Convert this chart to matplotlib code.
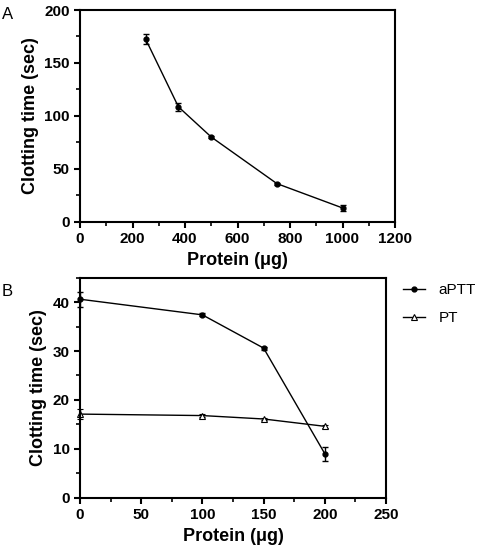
import matplotlib
matplotlib.use("Agg")
import matplotlib.pyplot as plt
from matplotlib.ticker import MultipleLocator

plt.rcParams['font.family'] = ['Liberation Sans', 'DejaVu Sans']

# panel A data
protein_a = [250, 375, 500, 750, 1000]
clot_a = [172.5, 108.5, 80, 36, 13]
err_a = [5, 4, 1, 1, 2.5]

# panel B data
protein_b = [0, 100, 150, 200]
aptt = [40.6, 37.4, 30.6, 9.0]
aptt_err = [1.5, 0.3, 0.3, 1.4]
pt = [17.1, 16.8, 16.1, 14.6]
pt_err = [1.0, 0.3, 0.3, 0.3]

W, H = 479, 550
fig = plt.figure(figsize=(W / 100, H / 100), dpi=100)

# axes placed in pixel coords of the reference
axA = fig.add_axes([80 / W, (H - 221.7) / H, 315 / W, 211.7 / H])
axB = fig.add_axes([80 / W, (H - 497.7) / H, 306 / W, 220 / H])

def style(ax):
    for s in ax.spines.values():
        s.set_linewidth(1.5)
    ax.tick_params(which='major', direction='out', length=4, width=1.5, labelsize=11)
    ax.tick_params(which='minor', direction='out', length=3, width=1.2)
    for lab in ax.get_xticklabels() + ax.get_yticklabels():
        lab.set_fontweight('bold')

axA.errorbar(protein_a, clot_a, yerr=err_a, color='black', lw=1, marker='o', ms=3.5,
             capsize=2, elinewidth=1, capthick=1)
axA.set_xlim(0, 1200)
axA.set_ylim(0, 200)
axA.xaxis.set_major_locator(MultipleLocator(200))
axA.xaxis.set_minor_locator(MultipleLocator(100))
axA.yaxis.set_major_locator(MultipleLocator(50))
axA.yaxis.set_minor_locator(MultipleLocator(25))
axA.set_xlabel('Protein (μg)', fontsize=13, fontweight='bold', labelpad=4)
axA.set_ylabel('Clotting time (sec)', fontsize=13, fontweight='bold', labelpad=4)
style(axA)

axB.errorbar(protein_b, aptt, yerr=aptt_err, color='black', lw=1, marker='o', ms=3.5,
             capsize=2, elinewidth=1, capthick=1, label='aPTT', clip_on=False)
axB.errorbar(protein_b, pt, yerr=pt_err, color='black', lw=1, marker='^', ms=4,
             mfc='white', mew=0.8, capsize=2, elinewidth=1, capthick=1, label='PT', clip_on=False)
axB.set_xlim(0, 250)
axB.set_ylim(0, 45)
axB.xaxis.set_major_locator(MultipleLocator(50))
axB.xaxis.set_minor_locator(MultipleLocator(25))
axB.yaxis.set_major_locator(MultipleLocator(10))
axB.yaxis.set_minor_locator(MultipleLocator(5))
axB.set_xlabel('Protein (μg)', fontsize=13, fontweight='bold', labelpad=4)
axB.set_ylabel('Clotting time (sec)', fontsize=13, fontweight='bold', labelpad=4)
style(axB)

handles, labels = axB.get_legend_handles_labels()
handles = [h[0] for h in handles]
fig.legend(handles, labels, loc='upper left', bbox_to_anchor=(397 / W, 1 - 277 / H),
           borderaxespad=0, frameon=False, fontsize=11, handlelength=1.4,
           labelspacing=0.9, handletextpad=0.9)

fig.text(2 / W, 1 - 19 / H, 'A', fontsize=12)
fig.text(2 / W, 1 - 296 / H, 'B', fontsize=12)

fig.savefig('out.png', dpi=100)
